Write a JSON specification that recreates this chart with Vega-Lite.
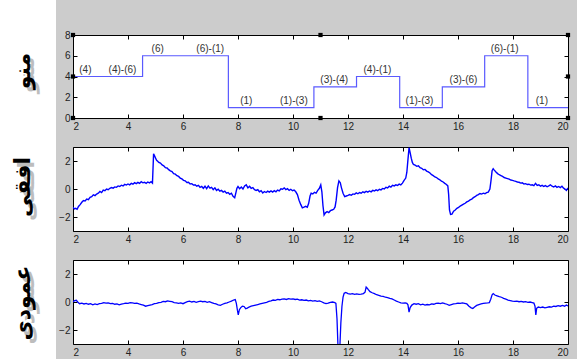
{
  "$schema": "https://vega.github.io/schema/vega-lite/v6.json",
  "background": "#cccccc",
  "padding": {"left": 0, "top": 0, "right": 6, "bottom": 0},
  "spacing": 2,
  "datasets": {
    "titles": [{"name": "منو", "k": 1}, {"name": "افقی", "k": 2}, {"name": "عمودی", "k": 3}],
    "steps": [{"t": 2, "v": 4}, {"t": 4.53, "v": 6}, {"t": 7.65, "v": 1}, {"t": 10.76, "v": 3}, {"t": 12.31, "v": 4}, {"t": 13.88, "v": 1}, {"t": 15.43, "v": 3}, {"t": 16.97, "v": 6}, {"t": 18.54, "v": 1}, {"t": 20, "v": 1}],
    "stepLabels": [
      {"t": 2.45, "v": 4, "label": "(4)"}, {"t": 3.8, "v": 4, "label": "(4)-(6)"},
      {"t": 5.08, "v": 6, "label": "(6)"}, {"t": 6.99, "v": 6, "label": "(6)-(1)"},
      {"t": 8.3, "v": 1, "label": "(1)"}, {"t": 10.03, "v": 1, "label": "(1)-(3)"},
      {"t": 11.5, "v": 3, "label": "(3)-(4)"}, {"t": 13.07, "v": 4, "label": "(4)-(1)"},
      {"t": 14.6, "v": 1, "label": "(1)-(3)"}, {"t": 16.2, "v": 3, "label": "(3)-(6)"},
      {"t": 17.7, "v": 6, "label": "(6)-(1)"}, {"t": 19.05, "v": 1, "label": "(1)"}
    ],
    "handles": [{"t": 2, "v": 0}, {"t": 2, "v": 4}, {"t": 2, "v": 8}, {"t": 11, "v": 0}, {"t": 11, "v": 8}, {"t": 20, "v": 0}, {"t": 20, "v": 4}, {"t": 20, "v": 8}],
    "horiz": [
      {"t":2.00,"v":-1.30},{"t":2.05,"v":-1.42},{"t":2.10,"v":-1.38},{"t":2.15,"v":-1.45},{"t":2.20,"v":-1.25},{"t":2.26,"v":-1.12},{"t":2.32,"v":-0.95},{"t":2.38,"v":-0.82},{"t":2.44,"v":-0.86},{"t":2.50,"v":-0.72},{"t":2.56,"v":-0.76},{"t":2.62,"v":-0.60},{"t":2.68,"v":-0.55},{"t":2.74,"v":-0.42},{"t":2.80,"v":-0.47},{"t":2.86,"v":-0.36},{"t":2.92,"v":-0.30},{"t":2.98,"v":-0.18},{"t":3.04,"v":-0.26},{"t":3.10,"v":-0.08},{"t":3.16,"v":-0.12},{"t":3.22,"v":0.00},{"t":3.28,"v":-0.05},{"t":3.34,"v":0.05},{"t":3.40,"v":0.10},{"t":3.46,"v":0.06},{"t":3.52,"v":0.15},{"t":3.58,"v":0.12},{"t":3.64,"v":0.22},{"t":3.70,"v":0.18},{"t":3.76,"v":0.27},{"t":3.82,"v":0.22},{"t":3.88,"v":0.33},{"t":3.94,"v":0.28},{"t":4.00,"v":0.36},{"t":4.06,"v":0.30},{"t":4.12,"v":0.40},{"t":4.18,"v":0.34},{"t":4.24,"v":0.45},{"t":4.30,"v":0.38},{"t":4.36,"v":0.47},{"t":4.42,"v":0.40},{"t":4.48,"v":0.52},{"t":4.54,"v":0.44},{"t":4.60,"v":0.48},{"t":4.66,"v":0.40},{"t":4.72,"v":0.50},{"t":4.78,"v":0.44},{"t":4.84,"v":0.52},{"t":4.89,"v":0.42},
      {"t":4.93,"v":2.52},{"t":4.97,"v":2.35},{"t":5.00,"v":2.22},{"t":5.04,"v":2.05},{"t":5.08,"v":1.98},{"t":5.12,"v":1.90},{"t":5.18,"v":1.85},{"t":5.24,"v":1.72},{"t":5.30,"v":1.66},{"t":5.36,"v":1.52},{"t":5.42,"v":1.50},{"t":5.48,"v":1.38},{"t":5.54,"v":1.30},{"t":5.60,"v":1.24},{"t":5.66,"v":1.10},{"t":5.72,"v":1.06},{"t":5.78,"v":0.95},{"t":5.84,"v":0.90},{"t":5.90,"v":0.78},{"t":5.96,"v":0.72},{"t":6.02,"v":0.62},{"t":6.08,"v":0.58},{"t":6.14,"v":0.46},{"t":6.20,"v":0.48},{"t":6.26,"v":0.36},{"t":6.32,"v":0.38},{"t":6.38,"v":0.28},{"t":6.44,"v":0.30},{"t":6.50,"v":0.20},{"t":6.56,"v":0.26},{"t":6.62,"v":0.12},{"t":6.68,"v":0.18},{"t":6.74,"v":0.05},{"t":6.80,"v":0.20},{"t":6.86,"v":0.02},{"t":6.92,"v":0.22},{"t":6.98,"v":0.06},{"t":7.04,"v":0.12},{"t":7.10,"v":-0.04},{"t":7.16,"v":0.08},{"t":7.22,"v":-0.10},{"t":7.28,"v":-0.02},{"t":7.34,"v":-0.16},{"t":7.40,"v":-0.10},{"t":7.46,"v":-0.22},{"t":7.52,"v":-0.15},{"t":7.58,"v":-0.30},{"t":7.64,"v":-0.25},{"t":7.70,"v":-0.38},{"t":7.76,"v":-0.30},{"t":7.82,"v":-0.52},{"t":7.88,"v":-0.62},{"t":7.92,"v":-0.30},{"t":7.96,"v":0.05},
      {"t":8.00,"v":0.18},{"t":8.06,"v":0.02},{"t":8.12,"v":0.14},{"t":8.18,"v":0.00},{"t":8.24,"v":0.22},{"t":8.30,"v":0.30},{"t":8.36,"v":0.08},{"t":8.42,"v":0.20},{"t":8.48,"v":0.05},{"t":8.54,"v":0.10},{"t":8.60,"v":-0.05},{"t":8.66,"v":-0.10},{"t":8.72,"v":-0.05},{"t":8.78,"v":-0.20},{"t":8.84,"v":-0.12},{"t":8.90,"v":-0.28},{"t":8.96,"v":-0.18},{"t":9.02,"v":-0.25},{"t":9.08,"v":-0.15},{"t":9.14,"v":-0.22},{"t":9.20,"v":-0.14},{"t":9.26,"v":-0.22},{"t":9.32,"v":-0.12},{"t":9.38,"v":-0.20},{"t":9.44,"v":-0.08},{"t":9.50,"v":-0.14},{"t":9.56,"v":0.02},{"t":9.62,"v":-0.02},{"t":9.68,"v":0.08},{"t":9.74,"v":-0.04},{"t":9.80,"v":0.02},{"t":9.86,"v":-0.10},{"t":9.92,"v":-0.02},{"t":9.98,"v":-0.12},{"t":10.04,"v":-0.08},{"t":10.10,"v":-0.20},{"t":10.16,"v":-0.40},{"t":10.22,"v":-0.80},{"t":10.28,"v":-1.10},{"t":10.34,"v":-1.35},{"t":10.40,"v":-1.30},{"t":10.46,"v":-1.24},{"t":10.52,"v":-1.30},{"t":10.57,"v":-1.02},{"t":10.62,"v":-0.50},{"t":10.66,"v":-0.30},{"t":10.72,"v":-0.35},{"t":10.78,"v":-0.24},{"t":10.84,"v":-0.30},{"t":10.90,"v":-0.10},{"t":10.96,"v":0.05},{"t":11.01,"v":0.30},{"t":11.05,"v":-0.20},{"t":11.09,"v":-1.20},{"t":11.13,"v":-1.85},{"t":11.18,"v":-1.70},{"t":11.24,"v":-1.62},{"t":11.30,"v":-1.68},{"t":11.36,"v":-1.55},{"t":11.42,"v":-1.50},{"t":11.48,"v":-1.45},{"t":11.53,"v":-1.28},{"t":11.57,"v":-0.80},{"t":11.62,"v":0.10},{"t":11.67,"v":0.58},{"t":11.72,"v":0.45},{"t":11.76,"v":0.10},{"t":11.82,"v":-0.30},{"t":11.88,"v":-0.55},{"t":11.94,"v":-0.50},
      {"t":12.00,"v":-0.46},{"t":12.06,"v":-0.40},{"t":12.12,"v":-0.45},{"t":12.18,"v":-0.35},{"t":12.24,"v":-0.38},{"t":12.30,"v":-0.28},{"t":12.36,"v":-0.34},{"t":12.42,"v":-0.25},{"t":12.48,"v":-0.30},{"t":12.54,"v":-0.20},{"t":12.60,"v":-0.26},{"t":12.66,"v":-0.16},{"t":12.72,"v":-0.22},{"t":12.78,"v":-0.14},{"t":12.84,"v":-0.20},{"t":12.90,"v":-0.10},{"t":12.96,"v":-0.14},{"t":13.02,"v":-0.06},{"t":13.08,"v":-0.12},{"t":13.14,"v":-0.02},{"t":13.20,"v":-0.06},{"t":13.26,"v":0.04},{"t":13.32,"v":0.00},{"t":13.38,"v":0.12},{"t":13.44,"v":0.08},{"t":13.50,"v":0.20},{"t":13.56,"v":0.14},{"t":13.62,"v":0.26},{"t":13.68,"v":0.22},{"t":13.74,"v":0.30},{"t":13.80,"v":0.25},{"t":13.86,"v":0.35},{"t":13.92,"v":0.30},{"t":13.98,"v":0.42},{"t":14.04,"v":0.62},{"t":14.10,"v":0.78},{"t":14.14,"v":1.20},{"t":14.18,"v":2.10},{"t":14.22,"v":2.95},{"t":14.26,"v":2.60},{"t":14.30,"v":2.20},{"t":14.34,"v":1.90},{"t":14.38,"v":1.75},{"t":14.44,"v":1.70},{"t":14.50,"v":1.62},{"t":14.56,"v":1.66},{"t":14.62,"v":1.52},{"t":14.68,"v":1.48},{"t":14.74,"v":1.38},{"t":14.80,"v":1.40},{"t":14.86,"v":1.28},{"t":14.92,"v":1.22},{"t":14.98,"v":1.14},{"t":15.04,"v":1.02},{"t":15.10,"v":0.95},{"t":15.16,"v":0.86},{"t":15.22,"v":0.82},{"t":15.28,"v":0.72},{"t":15.34,"v":0.66},{"t":15.40,"v":0.56},{"t":15.46,"v":0.50},{"t":15.52,"v":0.40},{"t":15.58,"v":0.32},{"t":15.63,"v":0.22},{"t":15.66,"v":-0.40},{"t":15.69,"v":-1.50},{"t":15.73,"v":-1.82},{"t":15.78,"v":-1.80},{"t":15.84,"v":-1.58},{"t":15.90,"v":-1.50},{"t":15.96,"v":-1.38},
      {"t":16.02,"v":-1.32},{"t":16.08,"v":-1.22},{"t":16.14,"v":-1.15},{"t":16.20,"v":-1.08},{"t":16.26,"v":-1.02},{"t":16.32,"v":-0.92},{"t":16.38,"v":-0.86},{"t":16.44,"v":-0.78},{"t":16.50,"v":-0.72},{"t":16.56,"v":-0.62},{"t":16.62,"v":-0.55},{"t":16.68,"v":-0.46},{"t":16.74,"v":-0.40},{"t":16.80,"v":-0.32},{"t":16.86,"v":-0.36},{"t":16.92,"v":-0.30},{"t":16.98,"v":-0.34},{"t":17.04,"v":-0.26},{"t":17.10,"v":-0.22},{"t":17.16,"v":0.00},{"t":17.20,"v":0.60},{"t":17.24,"v":1.30},{"t":17.28,"v":1.45},{"t":17.32,"v":1.35},{"t":17.38,"v":1.22},{"t":17.44,"v":1.10},{"t":17.50,"v":1.02},{"t":17.56,"v":0.96},{"t":17.62,"v":0.90},{"t":17.68,"v":0.82},{"t":17.74,"v":0.78},{"t":17.80,"v":0.74},{"t":17.86,"v":0.70},{"t":17.92,"v":0.64},{"t":17.98,"v":0.62},{"t":18.04,"v":0.58},{"t":18.10,"v":0.55},{"t":18.16,"v":0.50},{"t":18.22,"v":0.48},{"t":18.28,"v":0.42},{"t":18.34,"v":0.44},{"t":18.40,"v":0.36},{"t":18.46,"v":0.38},{"t":18.52,"v":0.32},{"t":18.58,"v":0.34},{"t":18.64,"v":0.28},{"t":18.70,"v":0.30},{"t":18.76,"v":0.24},{"t":18.82,"v":0.40},{"t":18.88,"v":0.26},{"t":18.94,"v":0.30},{"t":19.00,"v":0.20},{"t":19.06,"v":0.26},{"t":19.12,"v":0.18},{"t":19.18,"v":0.24},{"t":19.24,"v":0.16},{"t":19.30,"v":0.22},{"t":19.36,"v":0.30},{"t":19.42,"v":0.20},{"t":19.48,"v":0.14},{"t":19.54,"v":0.22},{"t":19.60,"v":0.12},{"t":19.66,"v":0.18},{"t":19.72,"v":0.10},{"t":19.78,"v":0.20},{"t":19.84,"v":0.06},{"t":19.90,"v":-0.02},{"t":19.94,"v":-0.10},{"t":20.00,"v":0.08}
    ],
    "vert": [
      {"t":2.00,"v":0.02},{"t":2.06,"v":0.10},{"t":2.12,"v":0.12},{"t":2.18,"v":-0.02},{"t":2.24,"v":-0.12},{"t":2.32,"v":-0.08},{"t":2.40,"v":-0.14},{"t":2.48,"v":-0.10},{"t":2.56,"v":-0.16},{"t":2.64,"v":-0.12},{"t":2.72,"v":-0.20},{"t":2.80,"v":-0.14},{"t":2.88,"v":-0.18},{"t":2.96,"v":-0.12},{"t":3.04,"v":-0.10},{"t":3.12,"v":-0.04},{"t":3.20,"v":-0.08},{"t":3.28,"v":-0.06},{"t":3.36,"v":-0.12},{"t":3.44,"v":-0.10},{"t":3.52,"v":-0.16},{"t":3.60,"v":-0.14},{"t":3.68,"v":-0.20},{"t":3.76,"v":-0.15},{"t":3.84,"v":-0.12},{"t":3.92,"v":-0.08},{"t":4.00,"v":-0.10},{"t":4.08,"v":-0.04},{"t":4.16,"v":-0.06},{"t":4.24,"v":-0.10},{"t":4.32,"v":-0.08},{"t":4.40,"v":-0.14},{"t":4.48,"v":-0.18},{"t":4.56,"v":-0.22},{"t":4.64,"v":-0.30},{"t":4.72,"v":-0.26},{"t":4.80,"v":-0.22},{"t":4.88,"v":-0.18},{"t":4.96,"v":-0.12},{"t":5.04,"v":-0.10},{"t":5.12,"v":-0.04},{"t":5.20,"v":-0.02},{"t":5.28,"v":0.04},{"t":5.36,"v":0.02},{"t":5.44,"v":0.08},{"t":5.52,"v":0.05},{"t":5.60,"v":0.02},{"t":5.68,"v":-0.04},{"t":5.76,"v":-0.06},{"t":5.84,"v":-0.10},{"t":5.92,"v":-0.06},{"t":6.00,"v":-0.12},{"t":6.08,"v":-0.04},{"t":6.16,"v":0.02},{"t":6.24,"v":0.06},{"t":6.32,"v":0.00},{"t":6.40,"v":0.04},{"t":6.48,"v":-0.02},{"t":6.56,"v":0.02},{"t":6.64,"v":0.06},{"t":6.72,"v":0.02},{"t":6.80,"v":0.04},{"t":6.88,"v":-0.02},{"t":6.96,"v":0.02},{"t":7.04,"v":-0.04},{"t":7.12,"v":-0.10},{"t":7.20,"v":-0.14},{"t":7.28,"v":-0.20},{"t":7.36,"v":-0.24},{"t":7.44,"v":-0.16},{"t":7.52,"v":-0.10},{"t":7.60,"v":-0.06},{"t":7.68,"v":0.00},{"t":7.76,"v":0.06},{"t":7.84,"v":0.14},{"t":7.90,"v":0.18},{"t":7.94,"v":-0.10},{"t":7.98,"v":-0.60},
      {"t":8.01,"v":-0.92},{"t":8.05,"v":-0.55},{"t":8.10,"v":-0.40},{"t":8.16,"v":-0.30},{"t":8.22,"v":-0.32},{"t":8.28,"v":-0.48},{"t":8.34,"v":-0.44},{"t":8.40,"v":-0.36},{"t":8.48,"v":-0.30},{"t":8.56,"v":-0.26},{"t":8.64,"v":-0.22},{"t":8.72,"v":-0.18},{"t":8.80,"v":-0.14},{"t":8.88,"v":-0.10},{"t":8.96,"v":-0.06},{"t":9.04,"v":-0.02},{"t":9.12,"v":0.04},{"t":9.20,"v":0.08},{"t":9.28,"v":0.14},{"t":9.36,"v":0.12},{"t":9.44,"v":0.18},{"t":9.52,"v":0.16},{"t":9.60,"v":0.20},{"t":9.68,"v":0.22},{"t":9.76,"v":0.18},{"t":9.84,"v":0.24},{"t":9.92,"v":0.20},{"t":10.00,"v":0.22},{"t":10.08,"v":0.18},{"t":10.16,"v":0.20},{"t":10.24,"v":0.14},{"t":10.32,"v":0.16},{"t":10.40,"v":0.12},{"t":10.48,"v":0.14},{"t":10.56,"v":0.08},{"t":10.64,"v":0.12},{"t":10.72,"v":0.06},{"t":10.80,"v":0.10},{"t":10.88,"v":0.04},{"t":10.96,"v":0.08},{"t":11.04,"v":0.02},{"t":11.12,"v":-0.06},{"t":11.20,"v":-0.12},{"t":11.28,"v":-0.08},{"t":11.36,"v":-0.02},{"t":11.44,"v":0.00},{"t":11.52,"v":-0.04},{"t":11.56,"v":-0.10},{"t":11.60,"v":-1.20},{"t":11.64,"v":-3.40},{"t":11.70,"v":-3.40},{"t":11.74,"v":-1.50},{"t":11.78,"v":-0.30},{"t":11.82,"v":0.35},{"t":11.86,"v":0.62},{"t":11.92,"v":0.68},
      {"t":12.00,"v":0.60},{"t":12.08,"v":0.56},{"t":12.16,"v":0.60},{"t":12.24,"v":0.54},{"t":12.32,"v":0.58},{"t":12.40,"v":0.55},{"t":12.48,"v":0.56},{"t":12.56,"v":0.60},{"t":12.62,"v":0.70},{"t":12.66,"v":1.06},{"t":12.70,"v":0.98},{"t":12.74,"v":0.88},{"t":12.80,"v":0.74},{"t":12.88,"v":0.66},{"t":12.96,"v":0.60},{"t":13.04,"v":0.52},{"t":13.12,"v":0.48},{"t":13.20,"v":0.42},{"t":13.28,"v":0.40},{"t":13.36,"v":0.34},{"t":13.44,"v":0.32},{"t":13.52,"v":0.26},{"t":13.60,"v":0.22},{"t":13.68,"v":0.14},{"t":13.76,"v":0.06},{"t":13.84,"v":0.00},{"t":13.92,"v":-0.06},{"t":14.00,"v":-0.08},{"t":14.08,"v":-0.06},{"t":14.14,"v":-0.10},{"t":14.18,"v":-0.20},{"t":14.22,"v":-0.72},{"t":14.26,"v":-0.40},{"t":14.32,"v":-0.22},{"t":14.40,"v":-0.12},{"t":14.48,"v":-0.16},{"t":14.56,"v":-0.12},{"t":14.64,"v":-0.20},{"t":14.72,"v":-0.16},{"t":14.80,"v":-0.22},{"t":14.88,"v":-0.18},{"t":14.96,"v":-0.20},{"t":15.04,"v":-0.14},{"t":15.12,"v":-0.16},{"t":15.20,"v":-0.10},{"t":15.28,"v":-0.08},{"t":15.36,"v":-0.12},{"t":15.44,"v":-0.06},{"t":15.52,"v":-0.12},{"t":15.60,"v":-0.16},{"t":15.68,"v":-0.24},{"t":15.76,"v":-0.18},{"t":15.84,"v":-0.14},{"t":15.92,"v":-0.12},
      {"t":16.00,"v":-0.08},{"t":16.08,"v":-0.10},{"t":16.16,"v":-0.06},{"t":16.24,"v":-0.10},{"t":16.32,"v":-0.14},{"t":16.40,"v":-0.30},{"t":16.48,"v":-0.42},{"t":16.54,"v":-0.46},{"t":16.60,"v":-0.36},{"t":16.68,"v":-0.24},{"t":16.76,"v":-0.18},{"t":16.84,"v":-0.14},{"t":16.92,"v":-0.10},{"t":17.00,"v":-0.08},{"t":17.08,"v":-0.06},{"t":17.14,"v":-0.04},{"t":17.19,"v":0.20},{"t":17.24,"v":0.52},{"t":17.28,"v":0.60},{"t":17.34,"v":0.50},{"t":17.42,"v":0.44},{"t":17.50,"v":0.38},{"t":17.58,"v":0.34},{"t":17.66,"v":0.26},{"t":17.74,"v":0.20},{"t":17.82,"v":0.14},{"t":17.90,"v":0.10},{"t":17.98,"v":0.06},{"t":18.06,"v":0.04},{"t":18.14,"v":0.06},{"t":18.22,"v":0.02},{"t":18.30,"v":0.04},{"t":18.38,"v":0.00},{"t":18.46,"v":0.02},{"t":18.54,"v":-0.02},{"t":18.62,"v":0.00},{"t":18.70,"v":-0.04},{"t":18.76,"v":-0.08},{"t":18.80,"v":-0.30},{"t":18.83,"v":-0.92},{"t":18.86,"v":-0.45},{"t":18.92,"v":-0.36},{"t":19.00,"v":-0.40},{"t":19.08,"v":-0.36},{"t":19.16,"v":-0.42},{"t":19.24,"v":-0.38},{"t":19.32,"v":-0.34},{"t":19.40,"v":-0.36},{"t":19.48,"v":-0.30},{"t":19.56,"v":-0.32},{"t":19.64,"v":-0.26},{"t":19.72,"v":-0.30},{"t":19.80,"v":-0.24},{"t":19.88,"v":-0.30},{"t":19.94,"v":-0.22},{"t":20.00,"v":-0.28}
    ]
  },
  "hconcat": [
    {
      "width": 56,
      "height": 359,
      "view": {"fill": "white", "stroke": null},
      "data": {"name": "titles"},
      "encoding": {
        "y": {"field": "k", "type": "quantitative", "scale": {"domain": [0.388, 3.483], "reverse": true, "nice": false, "zero": false}, "axis": null},
        "text": {"field": "name", "type": "nominal"}
      },
      "layer": [
        {"mark": {"type": "text", "angle": 270, "font": "DejaVu Sans", "fontWeight": "bold", "fontSize": 22, "color": "#bdbdbd", "xOffset": -1, "yOffset": 4}},
        {"mark": {"type": "text", "angle": 270, "font": "DejaVu Sans", "fontWeight": "bold", "fontSize": 22, "color": "#000000", "xOffset": -5}}
      ]
    },
    {
      "spacing": 29,
      "bounds": "flush",
      "vconcat": [
        {
          "width": 495,
          "height": 6,
          "view": {"fill": null, "stroke": null},
          "data": {"values": []},
          "mark": "point",
          "encoding": {}
        },
        {
          "width": 495,
          "height": 83,
          "layer": [
            {
              "data": {"name": "steps"},
              "mark": {"type": "line", "interpolate": "step-after", "color": "#5a5aff", "strokeWidth": 1.2},
              "encoding": {
                "x": {"field": "t", "type": "quantitative", "scale": {"domain": [2, 20], "nice": false, "zero": false}, "axis": {"orient": "bottom", "values": [2, 4, 6, 8, 10, 12, 14, 16, 18, 20], "title": null}},
                "y": {"field": "v", "type": "quantitative", "scale": {"domain": [0, 8], "nice": false}, "axis": {"orient": "left", "values": [0, 2, 4, 6, 8], "title": null}}
              }
            },
            {
              "data": {"name": "stepLabels"},
              "mark": {"type": "text", "baseline": "bottom", "dy": -2, "font": "Liberation Sans", "fontSize": 10, "color": "#333333"},
              "encoding": {
                "x": {"field": "t", "type": "quantitative", "axis": null},
                "y": {"field": "v", "type": "quantitative", "axis": null},
                "text": {"field": "label", "type": "nominal"}
              }
            },
            {
              "data": {"name": "handles"},
              "mark": {"type": "point", "shape": "square", "filled": true, "color": "#000000", "size": 18, "opacity": 1},
              "encoding": {
                "x": {"field": "t", "type": "quantitative", "axis": {"orient": "top", "values": [2, 4, 6, 8, 10, 12, 14, 16, 18, 20], "labels": false, "title": null}},
                "y": {"field": "v", "type": "quantitative", "axis": {"orient": "right", "values": [0, 2, 4, 6, 8], "labels": false, "title": null}}
              }
            }
          ],
          "resolve": {"axis": {"x": "independent", "y": "independent"}}
        },
        {
          "width": 495,
          "height": 84,
          "layer": [
            {
              "data": {"name": "horiz"},
              "mark": {"type": "line", "color": "#0000ff", "strokeWidth": 1.4, "clip": true},
              "encoding": {
                "x": {"field": "t", "type": "quantitative", "scale": {"domain": [2, 20], "nice": false, "zero": false}, "axis": {"orient": "bottom", "values": [2, 4, 6, 8, 10, 12, 14, 16, 18, 20], "title": null}},
                "y": {"field": "v", "type": "quantitative", "scale": {"domain": [-3, 3], "nice": false}, "axis": {"orient": "left", "values": [-2, 0, 2], "title": null}}
              }
            },
            {
              "data": {"name": "horiz"},
              "mark": {"type": "line", "opacity": 0},
              "encoding": {
                "x": {"field": "t", "type": "quantitative", "axis": {"orient": "top", "values": [2, 4, 6, 8, 10, 12, 14, 16, 18, 20], "labels": false, "title": null}},
                "y": {"field": "v", "type": "quantitative", "axis": {"orient": "right", "values": [-2, 0, 2], "labels": false, "title": null}}
              }
            }
          ],
          "resolve": {"axis": {"x": "independent", "y": "independent"}}
        },
        {
          "width": 495,
          "height": 84,
          "layer": [
            {
              "data": {"name": "vert"},
              "mark": {"type": "line", "color": "#0000ff", "strokeWidth": 1.3, "clip": true},
              "encoding": {
                "x": {"field": "t", "type": "quantitative", "scale": {"domain": [2, 20], "nice": false, "zero": false}, "axis": {"orient": "bottom", "values": [2, 4, 6, 8, 10, 12, 14, 16, 18, 20], "title": null}},
                "y": {"field": "v", "type": "quantitative", "scale": {"domain": [-3, 3], "nice": false}, "axis": {"orient": "left", "values": [-2, 0, 2], "title": null}}
              }
            },
            {
              "data": {"name": "vert"},
              "mark": {"type": "line", "opacity": 0},
              "encoding": {
                "x": {"field": "t", "type": "quantitative", "axis": {"orient": "top", "values": [2, 4, 6, 8, 10, 12, 14, 16, 18, 20], "labels": false, "title": null}},
                "y": {"field": "v", "type": "quantitative", "axis": {"orient": "right", "values": [-2, 0, 2], "labels": false, "title": null}}
              }
            }
          ],
          "resolve": {"axis": {"x": "independent", "y": "independent"}}
        }
      ]
    }
  ],
  "config": {
    "view": {"stroke": "#000000", "strokeWidth": 1, "fill": "white"},
    "axis": {"domain": false, "grid": false, "ticks": true, "tickSize": -4, "tickColor": "#000000", "labelFont": "Liberation Sans", "labelFontSize": 10, "labelColor": "#222222", "labelPadding": 7}
  }
}
